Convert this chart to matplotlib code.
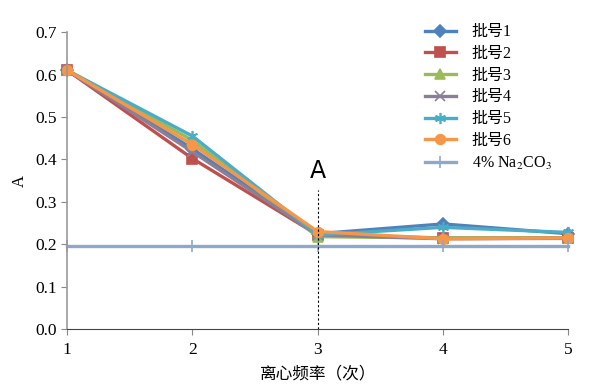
"""
Absorbance vs. centrifugation count for six batches and a Na2CO3 blank.
"""
import matplotlib
matplotlib.use("Agg")
import matplotlib.pyplot as plt

plt.rcParams['font.family'] = ['Liberation Serif', 'Noto Sans CJK SC', 'DejaVu Sans']
plt.rcParams['mathtext.fontset'] = 'stix'

counts = [1, 2, 3, 4, 5]
batch1 = [0.610, 0.425, 0.225, 0.248, 0.225]
batch2 = [0.610, 0.402, 0.222, 0.215, 0.215]
batch3 = [0.610, 0.445, 0.218, 0.215, 0.215]
batch4 = [0.610, 0.418, 0.222, 0.213, 0.214]
batch5 = [0.610, 0.455, 0.222, 0.240, 0.228]
batch6 = [0.610, 0.435, 0.230, 0.213, 0.215]
blank = [0.197, 0.197, 0.197, 0.197, 0.197]

series = [
    ("批号1", batch1, '#4F81BD', 'D', 6),
    ("批号2", batch2, '#C0504D', 's', 7),
    ("批号3", batch3, '#9BBB59', '^', 7),
    ("批号4", batch4, '#8A7F98', 'x', 7),
    ("批号5", batch5, '#4BACC6', (6, 2, 0), 8),
    ("批号6", batch6, '#F79646', 'o', 7),
    ("4% Na$_2$CO$_3$", blank, '#8FA8C8', '|', 8),
]

fig = plt.figure(figsize=(6, 3.91), dpi=100)
ax = fig.add_axes([0.112, 0.158, 0.835, 0.76])

for label, values, color, marker, size in series:
    ax.plot(counts, values, color=color, marker=marker, markersize=size,
            linewidth=2.4, markeredgewidth=1.2, label=label, clip_on=False)

ax.plot([3, 3], [0, 0.328], color='black', linestyle=(0, (2, 2)), linewidth=0.8)
ax.text(3, 0.345, "A", family='DejaVu Sans', fontsize=17, ha='center', va='bottom')

ax.set_xlim(1, 5)
ax.set_ylim(0, 0.7)
ax.set_xticks(counts)
ax.set_yticks([0.0, 0.1, 0.2, 0.3, 0.4, 0.5, 0.6, 0.7])
ax.set_yticklabels(["0.0", "0.1", "0.2", "0.3", "0.4", "0.5", "0.6", "0.7"])
ax.tick_params(labelsize=12.5, length=4, color='#888888')
ax.tick_params(axis='x', pad=5)
ax.spines['top'].set_visible(False)
ax.spines['right'].set_visible(False)
ax.spines['left'].set_color('#999999')
ax.spines['left'].set_linewidth(1.2)
ax.spines['bottom'].set_color('#444444')
ax.set_xlabel("离心频率（次）", fontsize=12, labelpad=6)
ax.set_ylabel("A", fontsize=12, labelpad=5)

ax.legend(loc='upper right', bbox_to_anchor=(0.995, 1.075), frameon=False, fontsize=11.5,
          handlelength=1.9, handletextpad=1.0, labelspacing=0.36)

fig.savefig("out.png", dpi=100)
